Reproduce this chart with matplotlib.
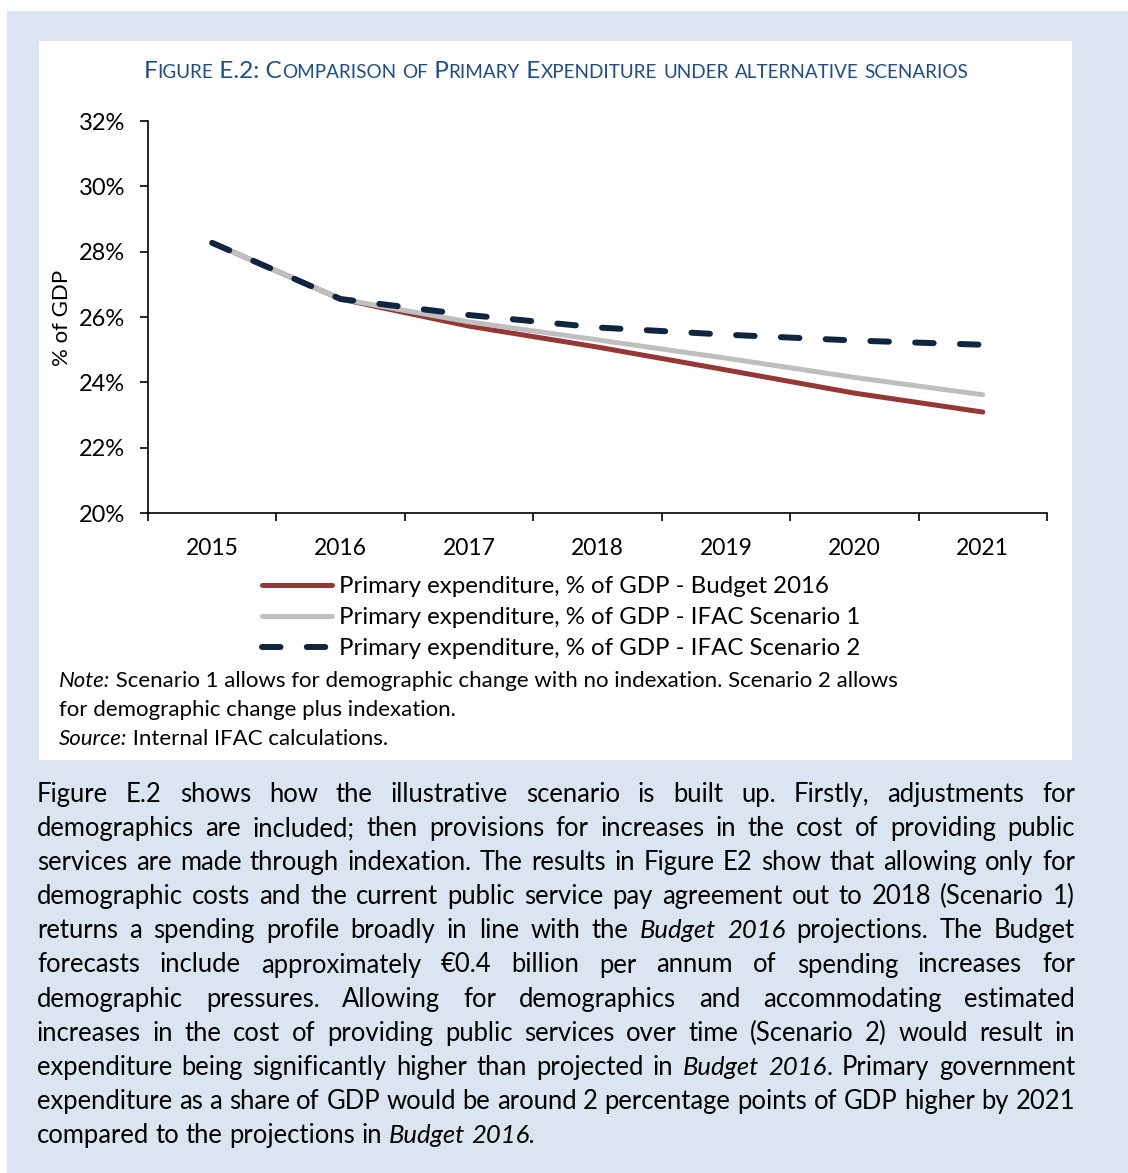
import matplotlib.pyplot as plt
from matplotlib.patches import Rectangle
import numpy as np

plt.rcParams['font.family'] = ['Lato', 'DejaVu Sans']

# Primary expenditure, % of GDP
years = ['2015', '2016', '2017', '2018', '2019', '2020', '2021']
budget_2016 = [28.27, 26.55, 25.72, 25.08, 24.38, 23.67, 23.09]
ifac_scen1 = [28.27, 26.55, 25.85, 25.30, 24.74, 24.15, 23.62]
ifac_scen2 = [28.27, 26.55, 26.06, 25.68, 25.46, 25.28, 25.15]
series_labels = ['Primary expenditure, % of GDP - Budget 2016',
                 'Primary expenditure, % of GDP - IFAC Scenario 1',
                 'Primary expenditure, % of GDP - IFAC Scenario 2']
y_ticks = [20, 22, 24, 26, 28, 30, 32]

title = 'Figure E.2: Comparison of Primary Expenditure under alternative scenarios'
note_lines = [
    [('Note:', True), (' Scenario 1 allows for demographic change with no indexation. Scenario 2 allows', False)],
    [('for demographic change plus indexation.', False)],
    [('Source:', True), (' Internal IFAC calculations.', False)],
]
body_lines = [
    'Figure E.2 shows how the illustrative scenario is built up. Firstly, adjustments for',
    'demographics are included; then provisions for increases in the cost of providing public',
    'services are made through indexation. The results in Figure E2 show that allowing only for',
    'demographic costs and the current public service pay agreement out to 2018 (Scenario 1)',
    'returns a spending profile broadly in line with the *Budget 2016* projections. The Budget',
    'forecasts include approximately €0.4 billion per annum of spending increases for',
    'demographic pressures. Allowing for demographics and accommodating estimated',
    'increases in the cost of providing public services over time (Scenario 2) would result in',
    'expenditure being significantly higher than projected in *Budget 2016*. Primary government',
    'expenditure as a share of GDP would be around 2 percentage points of GDP higher by 2021',
    'compared to the projections in *Budget 2016.*',
]

W, H = 1128, 1173
fig = plt.figure(figsize=(W / 100, H / 100), dpi=100)
renderer = fig.canvas.get_renderer()


def fx(x):
    return x / W


def fy(y):
    return 1 - y / H


def text_width(s, size, italic=False):
    t = fig.text(0, 0, s, fontsize=size, style='italic' if italic else 'normal')
    w = t.get_window_extent(renderer).width
    t.remove()
    return w


def draw_runs(x, y, parts, size, color='black'):
    for s, italic in parts:
        fig.text(fx(x), fy(y), s, fontsize=size, color=color,
                 style='italic' if italic else 'normal', ha='left', va='baseline')
        x += text_width(s, size, italic)
    return x


def split_words(line):
    words, cur, buf, italic = [], [], '', False
    for ch in line:
        if ch == '*':
            if buf:
                cur.append((buf, italic))
                buf = ''
            italic = not italic
        elif ch == ' ':
            if buf:
                cur.append((buf, italic))
                buf = ''
            if cur:
                words.append(cur)
                cur = []
        else:
            buf += ch
    if buf:
        cur.append((buf, italic))
    if cur:
        words.append(cur)
    return words


# page background and white figure box
fig.patches.append(Rectangle((fx(7), 0), 1 - fx(7), fy(11), transform=fig.transFigure,
                             facecolor='#dbe5f1', edgecolor='none', zorder=-2))
fig.patches.append(Rectangle((fx(39), fy(760)), fx(1072) - fx(39), fy(41) - fy(760),
                             transform=fig.transFigure, facecolor='white',
                             edgecolor='none', zorder=-1))

# title in small caps
big, small = 17.6, 13.6
runs = []
for ch in title:
    kind = 'small' if ch.islower() else 'big'
    if runs and runs[-1][1] == kind:
        runs[-1][0] += ch
    else:
        runs.append([ch, kind])
total = sum(text_width(s.upper(), big if k == 'big' else small) for s, k in runs)
xt = 556 - total / 2
for s, k in runs:
    sz = big if k == 'big' else small
    fig.text(fx(xt), fy(78), s.upper(), fontsize=sz, color='#1f4e86', ha='left', va='baseline')
    xt += text_width(s.upper(), sz)

# chart
ax = fig.add_axes([fx(148), fy(513), fx(1047) - fx(148), fy(121) - fy(513)])
ax.set_facecolor('none')
x = np.arange(len(years))
ax.plot(x, budget_2016, color='#953735', lw=3.6, solid_capstyle='round',
        solid_joinstyle='round', label=series_labels[0])
ax.plot(x, ifac_scen1, color='#bfbfbf', lw=3.6, solid_capstyle='round',
        solid_joinstyle='round', label=series_labels[1])
ax.plot(x, ifac_scen2, color='#10253f', lw=4.3, linestyle=(0, (3.1, 4.4)),
        dash_capstyle='round', dash_joinstyle='round', label=series_labels[2])

ax.set_xlim(-0.5, len(years) - 0.5)
ax.set_ylim(y_ticks[0], y_ticks[-1])
ax.set_xticks(np.arange(-0.5, len(years), 1))
ax.set_xticklabels([])
ax.set_xticks(x, minor=True)
ax.set_xticklabels(years, minor=True)
ax.set_yticks(y_ticks)
ax.set_yticklabels([f'{v}%' for v in y_ticks])
ax.tick_params(axis='x', which='major', direction='out', length=5.5, width=1.2)
ax.tick_params(axis='x', which='minor', length=0, pad=18, labelsize=16.5)
ax.tick_params(axis='y', direction='out', length=5.5, width=1.2, pad=11, labelsize=17)
for side in ['top', 'right']:
    ax.spines[side].set_visible(False)
for side in ['left', 'bottom']:
    ax.spines[side].set_linewidth(1.2)
fig.text(fx(62), fy(318), '% of GDP', rotation=90, fontsize=16, ha='center', va='center')

ax.legend(loc='upper left', bbox_to_anchor=(fx(262), fy(576)), bbox_transform=fig.transFigure,
          frameon=False, fontsize=17.3, handlelength=2.9, handletextpad=0.29,
          labelspacing=0.42, borderpad=0, borderaxespad=0)

# note and source
for i, parts in enumerate(note_lines):
    draw_runs(59, 687 + i * 29, parts, 16)

# justified body paragraph
x0, x1 = 37, 1075
test = 17
space = text_width('x x', test) - text_width('xx', test)
natural = []
for line in body_lines:
    words = split_words(line)
    natural.append(sum(text_width(s, test, it) for w in words for s, it in w)
                   + space * (len(words) - 1))
size = test * (x1 - x0 - 2) / max(natural)
space = text_width('x x', size) - text_width('xx', size)
for i, line in enumerate(body_lines):
    words = split_words(line)
    widths = [sum(text_width(s, size, it) for s, it in w) for w in words]
    last = i == len(body_lines) - 1
    gap = space if last else (x1 - x0 - sum(widths)) / (len(words) - 1)
    xpos = x0
    for w, wd in zip(words, widths):
        draw_runs(xpos, 802 + i * 34.1, w, size)
        xpos += wd + gap

fig.savefig('out.png', dpi=100)
